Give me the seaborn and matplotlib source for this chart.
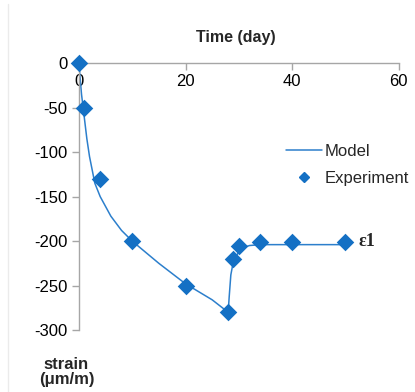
import matplotlib
matplotlib.use("Agg")
import matplotlib.pyplot as plt
import matplotlib.lines as mlines
import pandas as pd
import seaborn as sns

# Model curve
model_day = [0, 0.5, 1, 1.5, 2, 3, 4, 6, 8, 10, 12, 15, 20, 25, 28,
             28.2, 28.5, 29, 30, 31, 32, 34, 40, 50]
model_strain = [0, -35, -60, -85, -105, -135, -150, -172, -188, -200, -210, -225,
                -248, -266, -280, -262, -238, -222, -212, -207, -205, -204, -204, -204]

# Experiment points
exp_day = [0, 1, 4, 10, 20, 28, 29, 30, 34, 40, 50]
exp_strain = [0, -50, -130, -200, -250, -280, -220, -206, -201, -201, -201]

x_ticks = [0, 20, 40, 60]
y_ticks = [0, -50, -100, -150, -200, -250, -300]

blue = "#1470C4"
grey = "#A6A6A6"

sns.set_style("white")
plt.rcParams["font.family"] = ["Liberation Sans", "DejaVu Sans"]
plt.rcParams["axes.unicode_minus"] = False

model = pd.DataFrame({"day": model_day, "strain": model_strain})
exp = pd.DataFrame({"day": exp_day, "strain": exp_strain})

fig = plt.figure(figsize=(4.15, 3.92), dpi=100)
ax = fig.add_axes([0.190, 0.158, 0.771, 0.681])

sns.lineplot(data=model, x="day", y="strain", ax=ax, color="#2C7FCC",
             linewidth=1.1, sort=False, estimator=None)
sns.scatterplot(data=exp, x="day", y="strain", ax=ax, color=blue, marker="D",
                s=80, edgecolor=blue, linewidth=0, clip_on=False, zorder=5)

ax.set_xlim(0, 60)
ax.set_ylim(-300, 0)
ax.set_xticks(x_ticks)
ax.set_yticks(y_ticks)
ax.set_xlabel("")
ax.set_ylabel("")

ax.spines["bottom"].set_position(("data", 0))
ax.spines["top"].set_visible(False)
ax.spines["right"].set_visible(False)
for s in ["bottom", "left"]:
    ax.spines[s].set_color(grey)
    ax.spines[s].set_linewidth(1.0)
ax.tick_params(axis="both", direction="out", length=5, width=1.0, color=grey,
               labelsize=12, labelcolor="black")
ax.tick_params(axis="x", pad=3, bottom=True)
ax.tick_params(axis="y", pad=3, left=True)

fig.text(0.569, 0.905, "Time (day)", ha="center", va="center",
         fontsize=11.5, fontweight="bold")
fig.text(0.160, 0.051, "strain\n(\u03bcm/m)", ha="center", va="center",
         fontsize=12, fontweight="bold", linespacing=1.05)
ax.text(52.5, -201, "\u03b51", ha="left", va="center", fontsize=13,
        fontweight="bold", family=["Liberation Serif", "DejaVu Serif"])

h_model = mlines.Line2D([], [], color="#2C7FCC", linewidth=1.1)
h_exp = mlines.Line2D([], [], color=blue, marker="D", linestyle="none",
                      markersize=5.5)
ax.legend([h_model, h_exp], ["Model", "Experiment"], frameon=False,
          loc="upper left", bbox_to_anchor=(0.6, 0.755), fontsize=12,
          handlelength=2.2, handletextpad=0.15, labelspacing=0.75)

fig.add_artist(mlines.Line2D([0.02, 0.02], [0.0, 0.99], color="#EBEBEB",
                             linewidth=1.0))

fig.savefig("out.png", dpi=100)
